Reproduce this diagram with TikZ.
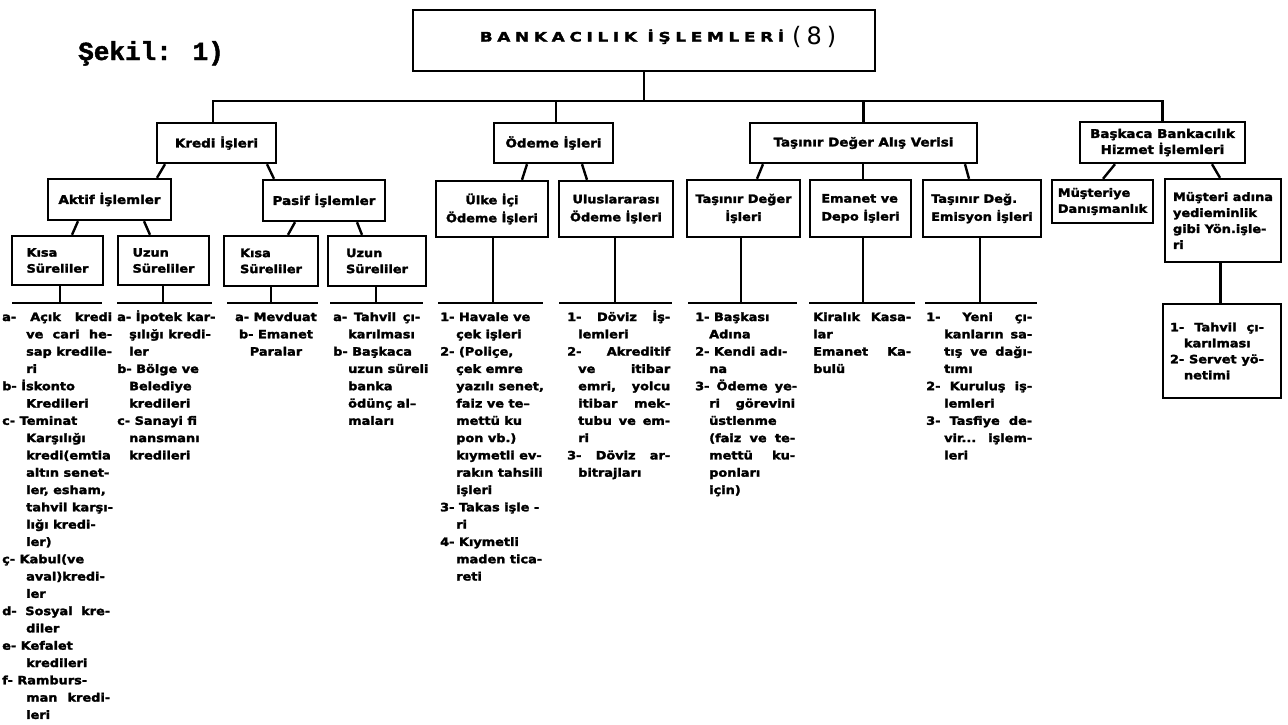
\documentclass[tikz,border=0pt]{standalone}
\usepackage{fontspec}
\newfontfamily\tf{DejaVu Sans}[FakeStretch=1.12,BoldFeatures={FakeBold=2.2}]
\newfontfamily\tfsp{DejaVu Sans}[FakeStretch=1.3,LetterSpace=36,BoldFeatures={FakeBold=2.2}]
\newfontfamily\monof{Liberation Mono}[BoldFeatures={FakeBold=1.8}]
\newfontfamily\djf{DejaVu Sans}
\newlength\hi
\newcommand\jl[2]{\hbox to #1pt{#2}}
\newcommand\itm{\par\hangindent=\hi\hangafter=1\leavevmode}
\newcommand\NL{\newline}
\tikzset{
  box/.style={draw, line width=2.4pt, inner sep=0pt, align=center,
    font=\tf\bfseries\fontsize{12}{16}\selectfont},
  sbox/.style={box, align=left, font=\tf\bfseries\fontsize{11.5}{16}\selectfont},
  conn/.style={line width=2.4pt},
  lst/.style={inner sep=0pt, anchor=base west,
    font=\tf\bfseries\fontsize{11.5}{17.3}\selectfont},
}
\begin{document}
\begin{tikzpicture}[x=1pt,y=-1pt]
\useasboundingbox (0,0) rectangle (1288,724);
\fill[white] (0,0) rectangle (1288,724);

% title
\node[anchor=base west, inner sep=0pt, font=\monof\bfseries\fontsize{26}{26}\selectfont] (sekil) at (78,60) {Şekil: 1)};
\node[box, minimum width=462pt, minimum height=61pt] (top) at (644,40.5)
  {\raisebox{-1pt}[0pt][0pt]{\hspace*{28pt}{\tfsp\bfseries\fontsize{13}{14}\selectfont BANKACILIK İŞLEMLERİ}\hspace{8pt}\raisebox{-3pt}{\djf\mdseries\fontsize{24}{24}\selectfont(\hspace{5pt}8\hspace{5pt})}}};

% level 2
\node[box, minimum width=119pt, minimum height=40pt] (kredi) at (216.5,143) {Kredi İşleri};
\node[box, minimum width=119pt, minimum height=40pt] (odeme) at (553.5,143) {Ödeme İşleri};
\node[box, minimum width=227pt, minimum height=40pt] (tasinir) at (863.5,143) {Taşınır Değer Alış Verisi};
\node[box, minimum width=165pt, minimum height=41pt] (baskaca) at (1162.5,142.5) {Başkaca Bankacılık\\Hizmet İşlemleri};

% level 3
\node[box, minimum width=123pt, minimum height=41pt] (aktif) at (109.5,199.5) {Aktif İşlemler};
\node[box, minimum width=122pt, minimum height=41pt] (pasif) at (324,200.5) {Pasif İşlemler};
\node[box, minimum width=112pt, minimum height=56pt, font=\tf\bfseries\fontsize{11.5}{18}\selectfont] (ulke) at (492,209) {Ülke İçi\\Ödeme İşleri};
\node[box, minimum width=114pt, minimum height=56pt, font=\tf\bfseries\fontsize{11.5}{18}\selectfont] (ulus) at (616,209) {Uluslararası\\Ödeme İşleri};
\node[box, minimum width=113pt, minimum height=57pt, font=\tf\bfseries\fontsize{11.5}{18}\selectfont] (tdi) at (743.5,208.5) {Taşınır Değer\\İşleri};
\node[sbox, minimum width=101pt, minimum height=57pt, font=\tf\bfseries\fontsize{11.5}{18}\selectfont] (emanet) at (860.5,208.5) {Emanet ve\\Depo İşleri};
\node[sbox, minimum width=118pt, minimum height=57pt, font=\tf\bfseries\fontsize{11.5}{18}\selectfont] (emisyon) at (982,208.5) {Taşınır Değ.\\Emisyon İşleri};
\node[sbox, minimum width=101pt, minimum height=43pt] (musteriye) at (1102.5,201.5) {Müşteriye\\Danışmanlık};
\node[sbox, minimum width=116pt, minimum height=83pt] (yediemin) at (1223,220.5) {Müşteri adına\\yedieminlik\\gibi Yön.işle-\\ri};

% level 4
\node[sbox, minimum width=91pt, minimum height=49pt] (kisaA) at (57.5,260.5) {Kısa\\Süreliler};
\node[sbox, minimum width=91pt, minimum height=49pt] (uzunA) at (163.5,260.5) {Uzun\\Süreliler};
\node[sbox, minimum width=94pt, minimum height=50pt] (kisaP) at (271,261) {Kısa\\Süreliler};
\node[sbox, minimum width=98pt, minimum height=50pt] (uzunP) at (377,261) {Uzun\\Süreliler};

% bottom-right box
\node[box, minimum width=118pt, minimum height=94pt, font=\tf\bfseries\fontsize{11.5}{16}\selectfont] (tahvil) at (1222,351)
  {\parbox{104pt}{\raggedright\setlength\hi{14pt}%
   \itm\jl{94}{1- Tahvil çı-}\NL karılması
   \itm\jl{94}{2- Servet yö-}\NL netimi}};

% top bus
\coordinate (bus) at (644,101);
\draw[conn] (top.south) -- (bus);
\draw[conn] ([xshift=-3.5pt]kredi.north) |- (bus) -| (baskaca.north);
\draw[conn] ([xshift=2.5pt]odeme.north) |- (bus);
\draw[conn] (tasinir.north) |- (bus);

% slanted connectors
\draw[conn] ([xshift=-51.5pt]kredi.south) -- ([xshift=47.5pt]aktif.north);
\draw[conn] ([xshift=50.5pt]kredi.south) -- ([xshift=-50pt]pasif.north);
\draw[conn] ([xshift=-31.5pt]aktif.south) -- ([xshift=14.5pt]kisaA.north);
\draw[conn] ([xshift=34.5pt]aktif.south) -- ([xshift=-13.5pt]uzunA.north);
\draw[conn] ([xshift=-29pt]pasif.south) -- ([xshift=17pt]kisaP.north);
\draw[conn] ([xshift=33pt]pasif.south) -- ([xshift=-15pt]uzunP.north);
\draw[conn] ([xshift=-26.5pt]odeme.south) -- ([xshift=30pt]ulke.north);
\draw[conn] ([xshift=28.5pt]odeme.south) -- ([xshift=-29pt]ulus.north);
\draw[conn] ([xshift=-100.5pt]tasinir.south) -- ([xshift=13.5pt]tdi.north);
\draw[conn] ([xshift=2.5pt]emanet.north) -- ([xshift=2.5pt]emanet.north |- tasinir.south);
\draw[conn] ([xshift=101.5pt]tasinir.south) -- ([xshift=-13pt]emisyon.north);
\draw[conn] ([xshift=-47.5pt]baskaca.south) -- ([xshift=0.5pt]musteriye.north);
\draw[conn] ([xshift=49.5pt]baskaca.south) -- ([xshift=-3pt]yediemin.north);
\draw[conn] ([xshift=-2.5pt]yediemin.south) -- ([xshift=-1.5pt]tahvil.north);

% stems and bars
\foreach \b/\s/\l/\r in {kisaA/2.5/12/102, uzunA/-0.5/117/212, kisaP/0/227/318,
  uzunP/-1/330/423, ulke/1/438/543, ulus/-1/559/672, tdi/-2.5/688/797,
  emanet/2.5/809/915, emisyon/-2/925/1037}{
  \coordinate (\b-L) at (\l,303);
  \coordinate (\b-R) at (\r,303);
  \draw[conn] ([xshift=\s pt]\b.south) |- (\b-L);
  \draw[conn] (\b-L) -- (\b-R);
}

% lists
\node[lst] (lKA) at (2,321) {\parbox[t]{200pt}{\raggedright\setlength\hi{24pt}%
  \itm\jl{110}{a- Açık kredi}\NL\jl{86}{ve cari he-}\NL sap kredile-\NL ri
  \itm b- İskonto\NL Kredileri
  \itm c- Teminat\NL Karşılığı\NL kredi(emtia\NL altın senet-\NL ler, esham,\NL tahvil karşı-\NL lığı kredi-\NL ler)
  \itm ç- Kabul(ve\NL aval)kredi-\NL ler
  \itm\jl{108}{d- Sosyal kre-}\NL diler
  \itm e- Kefalet\NL kredileri
  \itm f- Ramburs-\NL\jl{84}{man kredi-}\NL leri}};

\node[lst] (lUA) at (117,321) {\parbox[t]{200pt}{\raggedright\setlength\hi{12pt}%
  \itm a- İpotek kar-\NL şılığı kredi-\NL ler
  \itm b- Bölge ve\NL Belediye\NL kredileri
  \itm c- Sanayi fi\NL nansmanı\NL kredileri}};

\node[lst, anchor=base] (lKP) at (276,321) {\parbox[t]{100pt}{\centering a- Mevduat\\b- Emanet\\Paralar}};

\node[lst] (lUP) at (333,321) {\parbox[t]{200pt}{\raggedright\setlength\hi{15pt}%
  \itm\jl{87}{a- Tahvil çı-}\NL karılması
  \itm b- Başkaca\NL uzun süreli\NL banka\NL ödünç al–\NL maları}};

\node[lst] (lUI) at (440,321) {\parbox[t]{200pt}{\raggedright\setlength\hi{16pt}%
  \itm 1- Havale ve\NL çek işleri
  \itm 2- (Poliçe,\NL çek emre\NL yazılı senet,\NL faiz ve te–\NL mettü ku\NL pon vb.)\NL kıymetli ev-\NL rakın tahsili\NL işleri
  \itm 3- Takas işle -\NL ri
  \itm 4- Kıymetli\NL maden tica-\NL reti}};

\node[lst] (lUL) at (567,321) {\parbox[t]{200pt}{\raggedright\setlength\hi{11pt}%
  \itm\jl{103}{1- Döviz İş-}\NL lemleri
  \itm\jl{103}{2- Akreditif}\NL\jl{92}{ve itibar}\NL\jl{92}{emri, yolcu}\NL\jl{92}{itibar mek-}\NL\jl{92}{tubu ve em-}\NL ri
  \itm\jl{103}{3- Döviz ar-}\NL bitrajları}};

\node[lst] (lTD) at (695,321) {\parbox[t]{200pt}{\raggedright\setlength\hi{14pt}%
  \itm 1- Başkası\NL Adına
  \itm 2- Kendi adı-\NL na
  \itm\jl{102}{3- Ödeme ye-}\NL\jl{86}{ri görevini}\NL üstlenme\NL\jl{86}{(faiz ve te-}\NL\jl{86}{mettü ku-}\NL ponları\NL için)}};

\node[lst] (lEM) at (813,321) {\parbox[t]{200pt}{\raggedright\setlength\hi{0pt}%
  \itm\jl{98}{Kiralık Kasa-}\NL lar\NL\jl{98}{Emanet Ka-}\NL bulü}};

\node[lst] (lES) at (926,321) {\parbox[t]{200pt}{\raggedright\setlength\hi{18pt}%
  \itm\jl{106}{1- Yeni çı-}\NL\jl{88}{kanların sa-}\NL\jl{88}{tış ve dağı-}\NL tımı
  \itm\jl{106}{2- Kuruluş iş-}\NL lemleri
  \itm\jl{106}{3- Tasfiye de-}\NL\jl{88}{vir... işlem-}\NL leri}};

\end{tikzpicture}
\end{document}
